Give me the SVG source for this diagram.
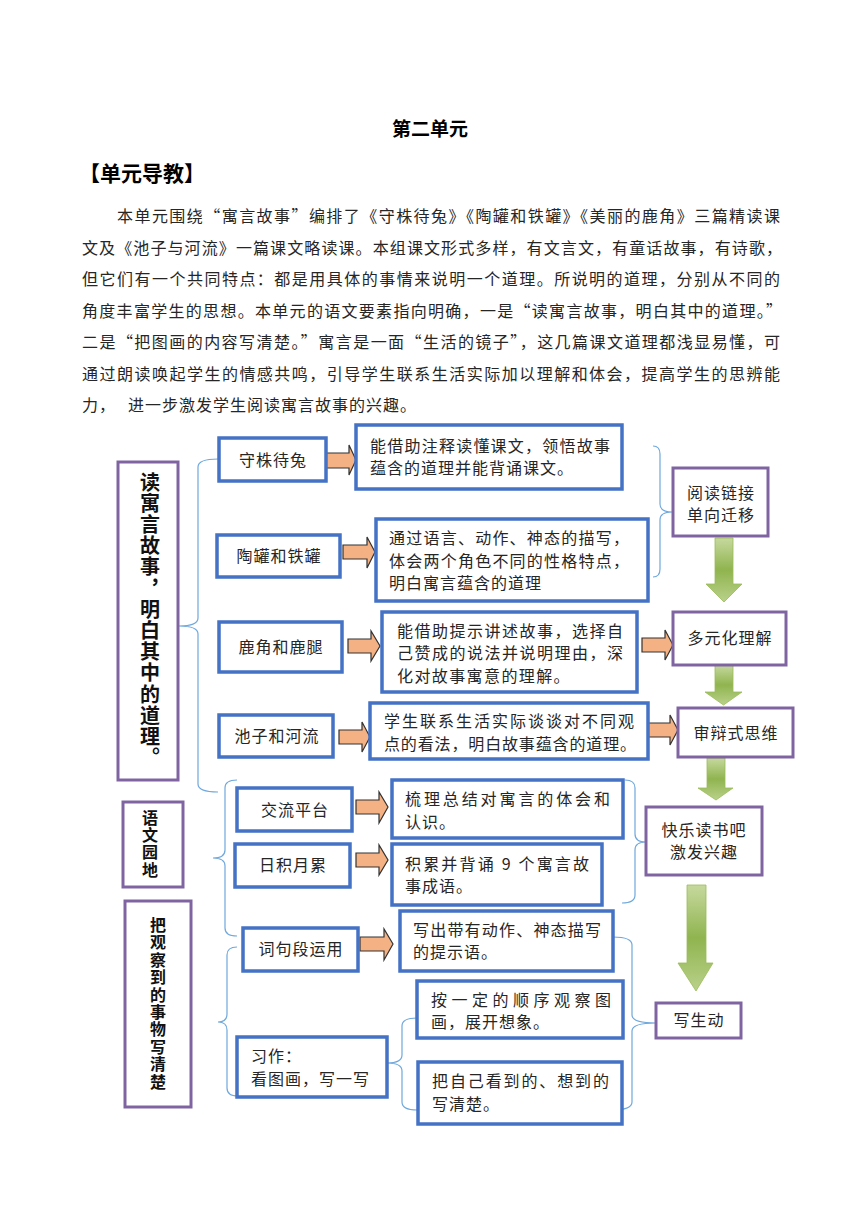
<svg xmlns="http://www.w3.org/2000/svg" width="860" height="1216" viewBox="0 0 860 1216">
<style>
text{font-family:"Noto Sans CJK SC","Noto Sans",sans-serif;fill:#262626;}
.t{font-size:16px;letter-spacing:1px;}
.c{font-size:16px;letter-spacing:1px;text-anchor:middle;}
.p{font-size:16px;}
.b{fill:#fff;stroke:#4472C4;stroke-width:3.5;}
.v{fill:#fff;stroke:#8064A2;stroke-width:3;}
.oa{fill:#F4B183;stroke:#333;stroke-width:1.2;stroke-linejoin:miter;}
.ga{fill:url(#g);stroke:#9BBB59;stroke-width:0.8;}
.br{fill:none;stroke:#6FA8DC;stroke-width:1.2;}
.vt{font-weight:bold;fill:#111;writing-mode:vertical-rl;}
</style>
<defs>
<linearGradient id="g" x1="0" y1="0" x2="0" y2="1">
<stop offset="0" stop-color="#c6d99e"/>
<stop offset="0.5" stop-color="#90b44f"/>
<stop offset="1" stop-color="#b9d18a"/>
</linearGradient>
</defs>
<rect width="860" height="1216" fill="#fff"/>

<g id="title">
<text x="430" y="136" style="font-size:19px;font-weight:bold;text-anchor:middle;fill:#000">第二单元</text>
<text x="79" y="181" style="font-size:21px;font-weight:bold;fill:#000">【单元导教】</text>
</g>
<g id="intro">
<text class="p" x="117" y="222" textLength="663" lengthAdjust="spacing">本单元围绕“寓言故事”编排了《守株待兔》《陶罐和铁罐》《美丽的鹿角》三篇精读课</text>
<text class="p" x="82" y="254" textLength="700" lengthAdjust="spacing">文及《池子与河流》一篇课文略读课。本组课文形式多样，有文言文，有童话故事，有诗歌，</text>
<text class="p" x="82" y="285" textLength="698" lengthAdjust="spacing">但它们有一个共同特点：都是用具体的事情来说明一个道理。所说明的道理，分别从不同的</text>
<text class="p" x="82" y="317" textLength="700" lengthAdjust="spacing">角度丰富学生的思想。本单元的语文要素指向明确，一是“读寓言故事，明白其中的道理。”</text>
<text class="p" x="82" y="348" textLength="698" lengthAdjust="spacing">二是“把图画的内容写清楚。”寓言是一面“生活的镜子”，这几篇课文道理都浅显易懂，可</text>
<text class="p" x="82" y="380" textLength="698" lengthAdjust="spacing">通过朗读唤起学生的情感共鸣，引导学生联系生活实际加以理解和体会，提高学生的思辨能</text>
<text class="t" x="82" y="411">力，</text>
<text class="t" x="128" y="411">进一步激发学生阅读寓言故事的兴趣。</text>
</g>

<g id="connectors">
<path class="br" d="M218,459 Q198,459 198,467 L198,618 Q198,626 179,626 Q198,626 198,634 L198,784 Q198,792 218,792"/>
<path class="br" d="M237,780 Q225,780 225,788 L225,850 Q225,858 213,858 Q225,858 225,866 L225,928 Q225,936 237,936"/>
<path class="br" d="M237,947 Q227,947 227,955 L227,1014 Q227,1022 218,1022 Q227,1022 227,1030 L227,1088 Q227,1096 238,1096"/>
<path class="br" d="M417,1018 Q402,1018 402,1026 L402,1055 Q402,1063 387,1063 Q402,1063 402,1071 L402,1102 Q402,1110 417,1110"/>
<path class="br" d="M653,446 Q660,446 660,454 L660,504 Q660,512 672,512 Q660,512 660,520 L660,569 Q660,577 653,577"/>
<path class="br" d="M625,780 Q635,780 635,788 L635,834 Q635,842 646,842 Q635,842 635,850 L635,895 Q635,903 622,903"/>
<path class="br" d="M613,937 Q632,937 632,945 L632,1015 Q632,1023 656,1023 Q632,1023 632,1031 L632,1102 Q632,1110 612,1110"/>

<path class="oa" d="M326,453 L349,453 L349,445 L356,460 L349,475 L349,468 L326,468 Z"/>
<path class="oa" d="M343,545 L367,545 L367,537 L375,552 L367,568 L367,559 L343,559 Z"/>
<path class="oa" d="M348,639 L371,639 L371,631 L380,646 L371,661 L371,653 L348,653 Z"/>
<path class="oa" d="M339,730 L362,730 L362,722 L370,737 L362,752 L362,744 L339,744 Z"/>
<path class="oa" d="M642,638 L665,638 L665,630 L673,645 L665,660 L665,652 L642,652 Z"/>
<path class="oa" d="M647,723 L670,723 L670,715 L678,730 L670,745 L670,737 L647,737 Z"/>
<path class="oa" d="M356,800 L379,800 L379,792 L388,807 L379,823 L379,814 L356,814 Z"/>
<path class="oa" d="M356,853 L379,853 L379,845 L388,860 L379,875 L379,867 L356,867 Z"/>
<path class="oa" d="M360,937 L384,937 L384,929 L393,944 L384,960 L384,951 L360,951 Z"/>

<path class="ga" d="M715,538 L733,538 L733,584 L742,584 L724,602 L706,584 L715,584 Z"/>
<path class="ga" d="M715,665 L733,665 L733,692 L742,692 L723.5,705 L705,692 L715,692 Z"/>
<path class="ga" d="M707,758 L725,758 L725,788 L733,788 L716,800 L698,788 L707,788 Z"/>
<path class="ga" d="M687,885 L706,885 L706,963 L713,963 L696,991 L678,963 L687,963 Z"/>
</g>

<g id="n-main1">
<rect class="v" x="118" y="462" width="60" height="318"/>
<text class="vt" x="150" y="472" style="font-size:20px;letter-spacing:1.2px">读寓言故事，明白其中的道理。</text>
</g>
<g id="n-main2">
<rect class="v" x="123" y="802" width="60" height="85"/>
<text class="vt" x="150" y="810" style="font-size:16px;letter-spacing:1.2px">语文园地</text>
</g>
<g id="n-main3">
<rect class="v" x="125" y="901" width="66" height="206"/>
<text class="vt" x="158" y="917" style="font-size:16px;letter-spacing:1.4px">把观察到的事物写清楚</text>
</g>

<g id="n-sz"><rect class="b" x="219" y="438" width="107" height="43"/><text class="c" x="273" y="466">守株待兔</text></g>
<g id="n-tg"><rect class="b" x="217" y="535" width="123" height="42"/><text class="c" x="279" y="562">陶罐和铁罐</text></g>
<g id="n-lj"><rect class="b" x="219" y="622" width="123" height="50"/><text class="c" x="281" y="653">鹿角和鹿腿</text></g>
<g id="n-cz"><rect class="b" x="219" y="715" width="114" height="42"/><text class="c" x="277" y="742">池子和河流</text></g>

<g id="d1"><rect class="b" x="356" y="425" width="266" height="64"/>
<text class="p" x="370" y="452" textLength="240" lengthAdjust="spacing">能借助注释读懂课文，领悟故事</text>
<text class="t" x="370" y="474">蕴含的道理并能背诵课文。</text></g>
<g id="d2"><rect class="b" x="376" y="519" width="272" height="82"/>
<text class="p" x="389" y="544" textLength="240" lengthAdjust="spacing">通过语言、动作、神态的描写，</text>
<text class="p" x="389" y="567" textLength="240" lengthAdjust="spacing">体会两个角色不同的性格特点，</text>
<text class="t" x="389" y="589">明白寓言蕴含的道理</text></g>
<g id="d3"><rect class="b" x="382" y="612" width="255" height="80"/>
<text class="p" x="397" y="637" textLength="226" lengthAdjust="spacing">能借助提示讲述故事，选择自</text>
<text class="p" x="397" y="659" textLength="226" lengthAdjust="spacing">己赞成的说法并说明理由，深</text>
<text class="t" x="397" y="682" style="letter-spacing:1.4px">化对故事寓意的理解。</text></g>
<g id="d4"><rect class="b" x="370" y="703" width="278" height="56"/>
<text class="p" x="384" y="727" textLength="250" lengthAdjust="spacing">学生联系生活实际谈谈对不同观</text>
<text class="p" x="384" y="750" textLength="252" lengthAdjust="spacing">点的看法，明白故事蕴含的道理。</text></g>

<g id="r1"><rect class="v" x="673" y="468" width="95" height="68"/>
<text class="c" x="721" y="499">阅读链接</text><text class="c" x="721" y="521">单向迁移</text></g>
<g id="r2"><rect class="v" x="673" y="612" width="113" height="53"/><text class="c" x="730" y="644">多元化理解</text></g>
<g id="r3"><rect class="v" x="678" y="708" width="115" height="49"/><text class="c" x="736" y="739">审辩式思维</text></g>
<g id="r4"><rect class="v" x="646" y="807" width="116" height="68"/>
<text class="c" x="704" y="836">快乐读书吧</text><text class="c" x="704" y="858">激发兴趣</text></g>
<g id="r5"><rect class="v" x="656" y="1003" width="85" height="35"/><text class="c" x="699" y="1026">写生动</text></g>

<g id="n-jl"><rect class="b" x="237" y="788" width="115" height="43"/><text class="c" x="295" y="816">交流平台</text></g>
<g id="n-rj"><rect class="b" x="235" y="844" width="115" height="43"/><text class="c" x="293" y="871">日积月累</text></g>
<g id="n-cj"><rect class="b" x="243" y="928" width="115" height="43"/><text class="c" x="301" y="955">词句段运用</text></g>
<g id="n-xz"><rect class="b" x="237" y="1037" width="150" height="60"/>
<text class="t" x="251" y="1062">习作：</text><text class="t" x="251" y="1085">看图画，写一写</text></g>

<g id="d5"><rect class="b" x="392" y="780" width="231" height="58"/>
<text class="p" x="405" y="805" textLength="205" lengthAdjust="spacing">梳理总结对寓言的体会和</text>
<text class="t" x="405" y="828">认识。</text></g>
<g id="d6"><rect class="b" x="392" y="844" width="210" height="61"/>
<text class="p" x="405" y="870" textLength="184" lengthAdjust="spacing">积累并背诵 9 个寓言故</text>
<text class="t" x="405" y="892">事成语。</text></g>
<g id="d7"><rect class="b" x="400" y="911" width="213" height="60"/>
<text class="p" x="413" y="936" textLength="188" lengthAdjust="spacing">写出带有动作、神态描写</text>
<text class="t" x="413" y="958">的提示语。</text></g>
<g id="d8"><rect class="b" x="417" y="981" width="206" height="57"/>
<text class="p" x="431" y="1006" textLength="180" lengthAdjust="spacing">按一定的顺序观察图</text>
<text class="t" x="431" y="1028">画，展开想象。</text></g>
<g id="d9"><rect class="b" x="418" y="1062" width="204" height="62"/>
<text class="p" x="432" y="1087" textLength="177" lengthAdjust="spacing">把自己看到的、想到的</text>
<text class="t" x="432" y="1110">写清楚。</text></g>
</svg>
